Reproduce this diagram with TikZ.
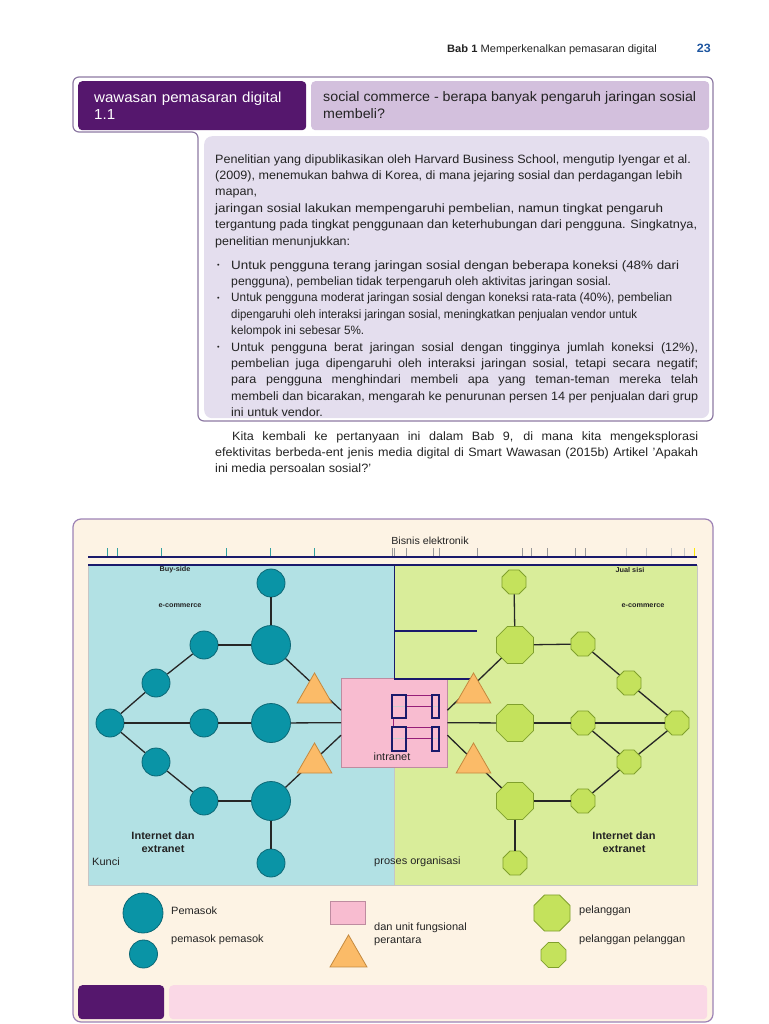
\documentclass[tikz,border=0pt]{standalone}
\usepackage{graphicx}
\usepackage{fontspec}
\setmainfont{Liberation Sans}[FakeStretch=1.04]
\usetikzlibrary{shapes.geometric, positioning}

\definecolor{bookpurple}{RGB}{85,23,109}
\definecolor{headlav}{RGB}{211,192,221}
\definecolor{boxlav}{RGB}{228,222,238}
\definecolor{boxline}{RGB}{141,122,163}
\definecolor{framepurple}{RGB}{157,130,181}
\definecolor{cream}{RGB}{253,243,228}
\definecolor{buyblue}{RGB}{178,225,228}
\definecolor{sellgreen}{RGB}{217,237,154}
\definecolor{navyline}{RGB}{26,26,107}
\definecolor{tealnode}{RGB}{10,148,166}
\definecolor{tealedge}{RGB}{12,104,118}
\definecolor{limenode}{RGB}{196,226,92}
\definecolor{limeedge}{RGB}{128,160,45}
\definecolor{orangetri}{RGB}{251,187,104}
\definecolor{orangeedge}{RGB}{196,137,62}
\definecolor{intrapink}{RGB}{248,188,208}
\definecolor{intraedge}{RGB}{190,140,160}
\definecolor{footpink}{RGB}{250,216,230}
\definecolor{pageblue}{RGB}{30,86,160}
\definecolor{tickteal}{RGB}{50,160,160}
\definecolor{iconmag}{RGB}{150,30,120}
\definecolor{textgray}{RGB}{35,35,35}

\newcommand{\bodysize}{\fontsize{12.1}{16.4}\selectfont}
\newcommand{\itemdot}{\makebox[16pt][l]{\hspace{2pt}\raisebox{1.3pt}{\fontsize{7}{7}\selectfont\textbullet}}}
\newcommand{\itemgap}{\makebox[16pt]{}}
\newcommand{\fullline}[2][467pt]{\hbox to #1{#2}}
\newdimen\fitwd
\newcommand{\fitto}[2]{\setbox0=\hbox{#2}\fitwd=\wd0\relax\scalebox{\fpeval{#1/\fitwd}}[1]{\box0}}

\begin{document}
\begin{tikzpicture}[x=1pt, y=-1pt,
    every node/.style={inner sep=0pt, text=textgray, font=\bodysize},
    bigsup/.style={circle, draw=tealedge, fill=tealnode, line width=0.8pt, minimum size=39pt},
    smallsup/.style={circle, draw=tealedge, fill=tealnode, line width=0.8pt, minimum size=28pt},
    bigcust/.style={regular polygon, regular polygon sides=8, draw=limeedge, fill=limenode, line width=0.8pt, minimum size=40pt},
    smallcust/.style={regular polygon, regular polygon sides=8, draw=limeedge, fill=limenode, line width=0.8pt, minimum size=26pt},
    broker/.style={regular polygon, regular polygon sides=3, draw=orangeedge, fill=orangetri, line width=0.8pt, minimum size=40pt},
    link/.style={line width=1.3pt, black!85},
    navy/.style={line width=1.6pt, navyline},
    tinylabel/.style={font=\fontsize{7}{8}\selectfont\bfseries},
    keylabel/.style={font=\fontsize{10.6}{13}\selectfont, align=left},
    netlabel/.style={font=\fontsize{10.6}{13}\selectfont\bfseries, align=center}
]
\useasboundingbox (0,0) rectangle (768,1024);

% running head
\node (runhead) [anchor=base west, font=\fontsize{10.7}{12}\selectfont] at (447,53) {\textbf{Bab 1} Memperkenalkan pemasaran digital};
\node (pagenum) [anchor=base east, text=pageblue, font=\fontsize{12}{14}\selectfont\bfseries] at (711,53) {23};

% insight box
\node (studybox) [anchor=north west, fill=boxlav, rounded corners=8pt, minimum width=505pt, minimum height=282pt] at (204,136) {};
\draw[boxline, line width=1.2pt, rounded corners=6pt] (73,77) -- (713,77) -- (713,421) -- (198,421) -- (198,132) -- (73,132) -- cycle;
\node (insighttag) [anchor=north west, fill=bookpurple, rounded corners=4pt, minimum width=228pt, minimum height=49pt, text width=196pt, inner xsep=16pt, align=left, text=white, font=\fontsize{14.5}{17.5}\selectfont] at (78,81) {wawasan pemasaran digital\\1.1};
\node (insighttitle) [anchor=north west, fill=headlav, rounded corners=4pt, minimum width=398pt, minimum height=49pt] at (311,81) {};
\node (titletext) [anchor=west, align=left, font=\fontsize{13.7}{17}\selectfont] at (323,105.5) {social commerce - berapa banyak pengaruh jaringan sosial\\membeli?};

\node (intro) [anchor=north west, align=left] at (215,151.5) {\strut Penelitian yang dipublikasikan oleh Harvard Business School, mengutip Iyengar et al.\\
  (2009), menemukan bahwa di Korea, di mana jejaring sosial dan perdagangan lebih\\
  mapan,\\
  \fitto{448}{jaringan sosial lakukan mempengaruhi pembelian, namun tingkat pengaruh}\\
  \fitto{482}{tergantung pada tingkat penggunaan dan keterhubungan dari pengguna. Singkatnya,}\\
  \fitto{135}{penelitian menunjukkan:}};
\node (findings) [anchor=north west, align=left] at (215,257.5) {\strut\itemdot\fitto{448}{Untuk pengguna terang jaringan sosial dengan beberapa koneksi (48\% dari}\\
  \itemgap\fitto{380}{pengguna), pembelian tidak terpengaruh oleh aktivitas jaringan sosial.}\\
  \itemdot\fitto{441}{Untuk pengguna moderat jaringan sosial dengan koneksi rata-rata (40\%), pembelian}\\
  \itemgap\fitto{406}{dipengaruhi oleh interaksi jaringan sosial, meningkatkan penjualan vendor untuk}\\
  \itemgap\fitto{133}{kelompok ini sebesar 5\%.}\\
  \itemdot\fullline{Untuk pengguna berat jaringan sosial dengan tingginya jumlah koneksi (12\%),}\\
  \itemgap\fullline{pembelian juga dipengaruhi oleh interaksi jaringan sosial, tetapi secara negatif;}\\
  \itemgap\fullline{para pengguna menghindari membeli apa yang teman-teman mereka telah}\\
  \itemgap\fullline{membeli dan bicarakan, mengarah ke penurunan persen 14 per penjualan dari grup}\\
  \itemgap ini untuk vendor.};
\node (bodypara) [anchor=north west, align=left] at (215,428.5) {\strut\makebox[17pt]{}\fullline[466pt]{Kita kembali ke pertanyaan ini dalam Bab 9, di mana kita mengeksplorasi}\\
  \fullline[483pt]{efektivitas berbeda-ent jenis media digital di Smart Wawasan (2015b) Artikel 'Apakah}\\
  \fitto{156}{ini media persoalan sosial?'}};

% figure frame
\draw[framepurple, fill=cream, line width=1.2pt, rounded corners=8pt] (73,519) rectangle (713,1022);
\node (buyarea) [anchor=north west, fill=buyblue, draw=gray!45, minimum width=306pt, minimum height=320pt] at (88,565) {};
\node (sellarea) [anchor=north west, fill=sellgreen, draw=gray!45, minimum width=303pt, minimum height=320pt] at (394,565) {};

\node (ebiz) [font=\fontsize{10.3}{11}\selectfont] at (430,541) {Bisnis elektronik};
\foreach \x in {107,117,161,226,270,314}
  \draw[tickteal, line width=1pt] (\x,548) -- (\x,556);
\foreach \x in {392,394.5,406,433,439,477,522,531,547,575,585}
  \draw[gray!80, line width=1pt] (\x,548) -- (\x,556);
\foreach \x in {626,646,671,684}
  \draw[gray!45, line width=1pt] (\x,548) -- (\x,556);
\draw[yellow!90!orange, line width=1pt] (694,548) -- (694,556);
\draw[navy, line width=2pt] ([yshift=8pt]buyarea.north west) -- ([yshift=8pt]sellarea.north east);
\draw[navy] (buyarea.north west) -- (sellarea.north east);

\node (buylabel) [tinylabel] at (175,570) {Buy-side};
\node (buyecom) [tinylabel] at (180,606) {e-commerce};
\node (selllabel) [tinylabel] at (630,570) {Jual sisi};
\node (sellecom) [tinylabel] at (643,606) {e-commerce};
\node (leftnet) [netlabel] at (163,842) {Internet dan\\extranet};
\node (rightnet) [netlabel] at (624,842) {Internet dan\\extranet};
\node (keyword) [keylabel, anchor=west] at (92,862) {Kunci};
\node (orgproc) [keylabel, anchor=west] at (374,862) {proses organisasi};

% intranet box
\node (intra) [anchor=north west, fill=intrapink, draw=intraedge, minimum width=106pt, minimum height=89pt] at (341,678) {};
\node (intralabel) [keylabel] at (392,757) {intranet};

% suppliers
\node (ltop) [smallsup] at (271,583) {};
\node (lbig1) [bigsup] at (271,645) {};
\node (lbig2) [bigsup] at (271,723) {};
\node (lbig3) [bigsup] at (271,801) {};
\node (ls1) [smallsup] at (204,645) {};
\node (ls2) [smallsup] at (156,683) {};
\node (lleft) [smallsup] at (110,723) {};
\node (ls3) [smallsup] at (204,723) {};
\node (ls4) [smallsup] at (156,762) {};
\node (ls5) [smallsup] at (204,801) {};
\node (lbottom) [smallsup] at (271,863) {};

% customers
\node (rtop) [smallcust] at (514,582) {};
\node (rbig1) [bigcust] at (515,645) {};
\node (rbig2) [bigcust] at (515,723) {};
\node (rbig3) [bigcust] at (515,801) {};
\node (rs1) [smallcust] at (583,644) {};
\node (rs2) [smallcust] at (629,683) {};
\node (rright) [smallcust] at (677,723) {};
\node (rs3) [smallcust] at (583,723) {};
\node (rs4) [smallcust] at (629,762) {};
\node (rs5) [smallcust] at (583,801) {};
\node (rbottom) [smallcust] at (515,863) {};

% sell-side frame lines
\coordinate (midcut) at (477,631);
\coordinate (lowcut) at (477,679);
\draw[navy] (buyarea.north east) -- (buyarea.east |- lowcut);
\draw[navy] (buyarea.east |- midcut) -- (midcut);
\draw[navy] (buyarea.east |- lowcut) -- (lowcut);

\draw[link] (ltop) -- (lbig1);
\draw[link] (ls1) -- (lbig1);
\draw[link] (ls1) -- (ls2);
\draw[link] (ls2) -- (lleft);
\draw[link] (lleft) -- (ls3);
\draw[link] (ls3) -- (lbig2);
\draw[link] (lbig2) -- (intra.west);
\draw[link] (lleft) -- (ls4);
\draw[link] (ls4) -- (ls5);
\draw[link] (ls5) -- (lbig3);
\draw[link] (lbig3) -- (lbottom);
\draw[link] (lbig1) -- ([yshift=12.5pt]intra.west);
\draw[link] (lbig3) -- ([yshift=-12.5pt]intra.west);

\draw[link] (rtop) -- (rbig1);
\draw[link] (rbig1) -- (rs1);
\draw[link] (rs1) -- (rs2);
\draw[link] (rs2) -- (rright);
\draw[link] (intra.east) -- (rbig2);
\draw[link] (rbig2) -- (rs3);
\draw[link] (rs3) -- (rright);
\draw[link] (rs3) -- (rs4);
\draw[link] (rs4) -- (rright);
\draw[link] (rs4) -- (rs5);
\draw[link] (rs5) -- (rbig3);
\draw[link] (rbig3) -- (rbottom);
\draw[link] ([yshift=12.5pt]intra.east) -- (rbig1);
\draw[link] ([yshift=-12.5pt]intra.east) -- (rbig3);

% intermediaries
\node (ltri1) [broker] at (314.5,693) {};
\node (ltri2) [broker] at (314.5,763) {};
\node (rtri1) [broker] at (473.5,693) {};
\node (rtri2) [broker] at (473.5,763) {};

% intranet icon
\draw[gray!40, line width=1pt] (392,706) -- (439,706) (392,738) -- (439,738);
\draw[iconmag, line width=1pt] (406,695) -- (432,695) (406,706) -- (432,706)
  (393,727) -- (439,727) (406,738) -- (432,738) (393,718) -- (393,727);
\draw[navyline, line width=1.2pt] (392,695) rectangle (406,718) (432,695) rectangle (439,718)
  (392,727) rectangle (406,751) (432,727) rectangle (439,751);

% key
\node (keybigsup) [bigsup, minimum size=40pt] at (143,913) {};
\node (keysmallsup) [smallsup] at (143.5,954) {};
\node (keysupA) [keylabel, anchor=west] at (171,911) {Pemasok};
\node (keysupB) [keylabel, anchor=west] at (171,940) {pemasok pemasok};
\node (keybox) [anchor=north west, fill=intrapink, draw=intraedge, minimum width=35pt, minimum height=23pt] at (330,901) {};
\node (keytri) [broker, minimum size=42.7pt] at (348.5,956.3) {};
\node (keymid) [keylabel, anchor=north west] at (374,922.5) {dan unit fungsional\\perantara};
\node (keybigcust) [bigcust, minimum size=39pt] at (552,913) {};
\node (keysmallcust) [smallcust, minimum size=27pt] at (553.5,955) {};
\node (keycustA) [keylabel, anchor=west] at (579,911) {pelanggan};
\node (keycustB) [keylabel, anchor=west] at (579,940) {pelanggan pelanggan};

% foot bars
\node (footdark) [anchor=north west, fill=bookpurple, rounded corners=4pt, minimum width=86pt, minimum height=34pt] at (78,985) {};
\node (footlight) [anchor=north west, fill=footpink, rounded corners=4pt, minimum width=538pt, minimum height=34pt] at (169,985) {};
\end{tikzpicture}
\end{document}
